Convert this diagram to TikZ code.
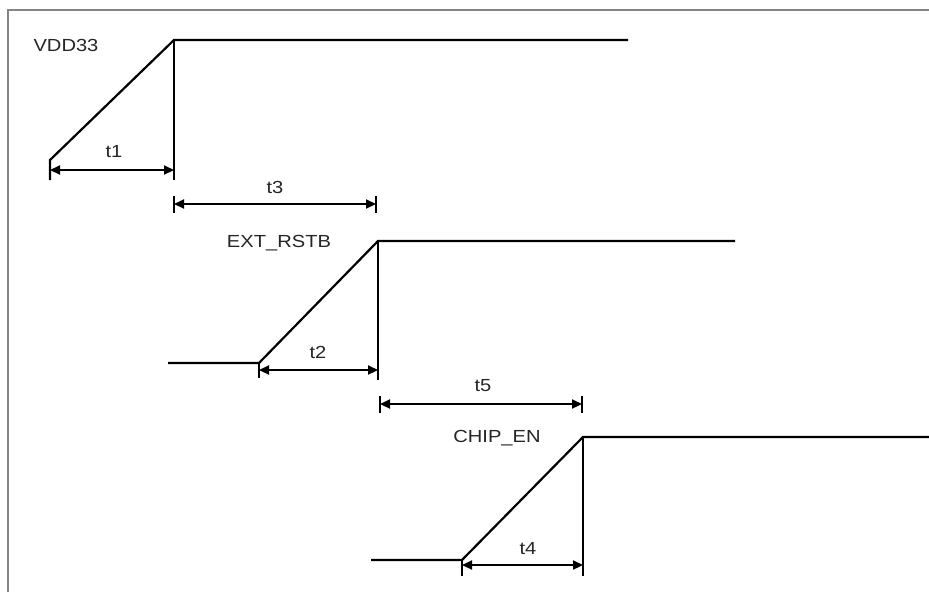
\documentclass[tikz,border=0pt]{standalone}
\usepackage{fontspec}
\setmainfont{Liberation Sans}
\usetikzlibrary{arrows.meta}
\begin{document}
\begin{tikzpicture}[x=1pt,y=-1pt,
  sig/.style={line width=2.2pt,line join=miter},
  dim/.style={line width=2.2pt,{Triangle[length=10pt,width=9pt]}-{Triangle[length=10pt,width=9pt]}},
  tick/.style={line width=2.2pt},
  lbl/.style={font=\fontsize{17.5}{20}\selectfont,text=black!85,inner sep=0pt,xscale=1.15},
  frame/.style={line width=2.5pt,draw=black!48}]
\useasboundingbox (0,0) rectangle (929,592);
\fill[white] (0,0) rectangle (929,592);
% frame
\coordinate (fbl) at (8,592);
\coordinate (ftl) at (8,10);
\coordinate (ftr) at (929,10);
\draw[frame] (fbl) -- (ftl) -- (ftr);
% VDD33
\coordinate (a0) at (50,160);
\coordinate (a0b) at (50,180);
\coordinate (a1) at (174,40);
\coordinate (a1b) at (174,180);
\coordinate (a2) at (628,40);
\draw[sig] (a0b) -- (a0) -- (a1) -- (a2);
\draw[sig] (a1) -- (a1b);
\node[lbl] (vdd) at (66,45) {VDD33};
% t1
\coordinate (t1a) at (50,170);
\coordinate (t1b) at (174,170);
\draw[dim] (t1a) -- (t1b);
\node[lbl] (t1) at (114,152) {t1};
% t3
\coordinate (t3a) at (174,204);
\coordinate (t3b) at (376,204);
\draw[tick] (174,196) -- (174,213);
\draw[tick] (376,196) -- (376,213);
\draw[dim] (t3a) -- (t3b);
\node[lbl] (t3) at (275,187) {t3};
% EXT_RSTB
\coordinate (b0) at (168,363);
\coordinate (b1) at (259,363);
\coordinate (b1b) at (259,378);
\coordinate (b2) at (378,241);
\coordinate (b2b) at (378,380);
\coordinate (b3) at (735,241);
\draw[sig] (b0) -- (b1) -- (b2) -- (b3);
\draw[sig] (b1) -- (b1b);
\draw[sig] (b2) -- (b2b);
\node[lbl] (ext) at (279,243) {EXT\_RSTB};
% t2
\coordinate (t2a) at (259,370);
\coordinate (t2b) at (378,370);
\draw[dim] (t2a) -- (t2b);
\node[lbl] (t2) at (318,352) {t2};
% t5
\coordinate (t5a) at (380,404);
\coordinate (t5b) at (582,404);
\draw[tick] (380,396) -- (380,413);
\draw[tick] (582,396) -- (582,413);
\draw[dim] (t5a) -- (t5b);
\node[lbl] (t5) at (483,386) {t5};
% CHIP_EN
\coordinate (c0) at (371,560);
\coordinate (c1) at (462,560);
\coordinate (c1b) at (462,576);
\coordinate (c2) at (583,437);
\coordinate (c2b) at (583,576);
\coordinate (c3) at (929,437);
\draw[sig] (c0) -- (c1) -- (c2) -- (c3);
\draw[sig] (c1) -- (c1b);
\draw[sig] (c2) -- (c2b);
\node[lbl] (chip) at (497,438) {CHIP\_EN};
% t4
\coordinate (t4a) at (462,565);
\coordinate (t4b) at (583,565);
\draw[dim] (t4a) -- (t4b);
\node[lbl] (t4) at (528,549) {t4};
\end{tikzpicture}
\end{document}
